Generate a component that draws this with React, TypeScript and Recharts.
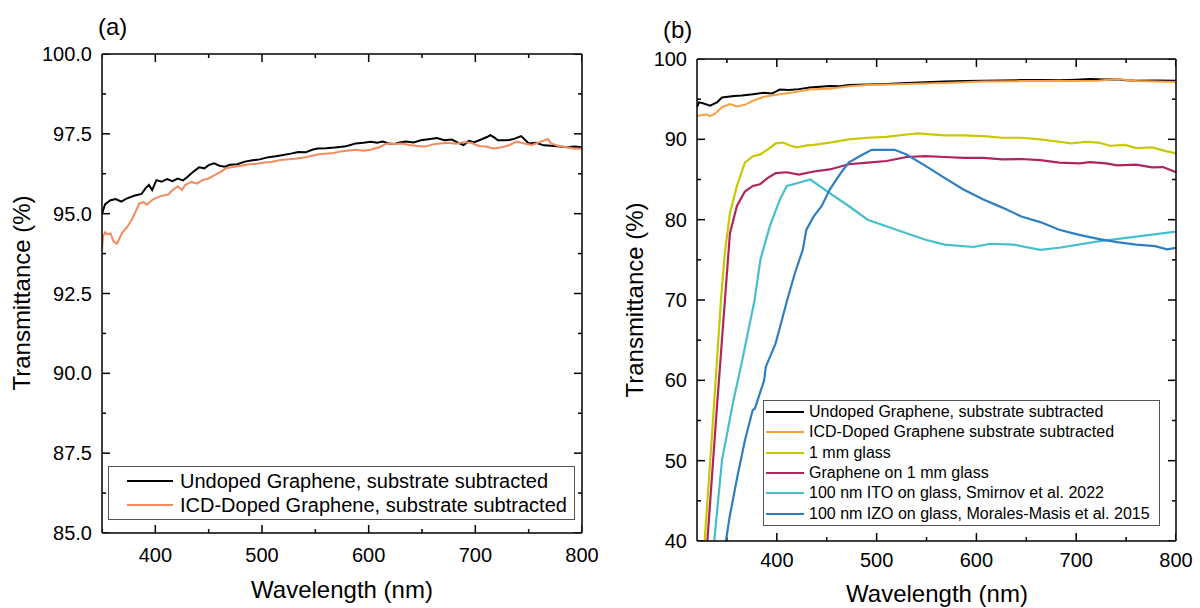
import { Legend, Line, LineChart, XAxis, YAxis } from "recharts";

const FONT = '"Liberation Sans", Arial, Helvetica, sans-serif';

// ---------- panel (a): wavelength (nm), transmittance (%) ----------
const undopedA: [number, number][] = [
  [350, 95.0], [353, 95.3], [358, 95.42], [363, 95.46], [368, 95.38], [373, 95.47],
  [380, 95.56], [387, 95.62], [391, 95.8], [394, 95.9], [397, 95.74], [401, 96.05],
  [406, 96.0], [411, 96.08], [416, 96.02], [421, 96.1], [426, 96.04], [430, 96.15],
  [435, 96.3], [441, 96.45], [446, 96.42], [450, 96.52], [455, 96.58], [460, 96.5],
  [465, 96.47], [470, 96.53], [477, 96.55], [484, 96.63], [491, 96.67], [498, 96.7],
  [506, 96.77], [513, 96.8], [520, 96.84], [527, 96.88], [534, 96.93], [541, 96.92],
  [547, 97.0], [552, 97.04], [560, 97.05], [568, 97.07], [577, 97.1], [583, 97.15],
  [588, 97.2], [595, 97.22], [602, 97.25], [608, 97.22], [613, 97.26], [619, 97.2],
  [624, 97.18], [630, 97.24], [635, 97.26], [642, 97.23], [649, 97.3], [656, 97.33],
  [664, 97.37], [671, 97.3], [678, 97.32], [684, 97.22], [689, 97.15], [694, 97.28],
  [699, 97.24], [706, 97.33], [711, 97.4], [714, 97.46], [718, 97.38], [721, 97.3],
  [727, 97.3], [732, 97.31], [737, 97.35], [743, 97.43], [747, 97.3], [750, 97.2],
  [757, 97.22], [764, 97.14], [771, 97.13], [779, 97.1], [786, 97.08], [793, 97.1],
  [800, 97.08],
];

const dopedA: [number, number][] = [
  [350, 93.85], [351, 94.3], [353, 94.42], [355, 94.35], [358, 94.38], [361, 94.12],
  [364, 94.06], [366, 94.2], [369, 94.4], [374, 94.6], [378, 94.82], [382, 95.1],
  [385, 95.32], [389, 95.36], [392, 95.28], [398, 95.45], [405, 95.55], [412, 95.6],
  [416, 95.73], [421, 95.86], [425, 95.74], [428, 95.9], [434, 96.0], [439, 95.94],
  [444, 96.05], [450, 96.1], [455, 96.2], [461, 96.3], [466, 96.42], [473, 96.46],
  [480, 96.5], [488, 96.55], [495, 96.56], [502, 96.6], [509, 96.62], [516, 96.67],
  [523, 96.7], [531, 96.72], [538, 96.75], [545, 96.8], [552, 96.85], [559, 96.88],
  [567, 96.9], [574, 96.95], [581, 96.98], [588, 97.0], [595, 96.97], [602, 97.0],
  [610, 97.08], [617, 97.2], [624, 97.18], [631, 97.2], [638, 97.15], [646, 97.12],
  [653, 97.1], [660, 97.17], [667, 97.2], [674, 97.22], [682, 97.19], [689, 97.24],
  [696, 97.22], [703, 97.12], [710, 97.1], [717, 97.04], [725, 97.08], [732, 97.15],
  [739, 97.26], [746, 97.2], [753, 97.15], [761, 97.25], [768, 97.34], [771, 97.2],
  [778, 97.12], [786, 97.08], [793, 97.03], [800, 97.04],
];

// ---------- panel (b) ----------
const undopedB: [number, number][] = [
  [320, 94.0], [322, 94.6], [326, 94.5], [333, 94.2], [340, 94.6], [345, 95.2],
  [351, 95.3], [357, 95.4], [365, 95.45], [376, 95.6], [387, 95.8], [395, 95.7],
  [403, 96.2], [412, 96.15], [422, 96.25], [433, 96.45], [443, 96.55], [453, 96.65],
  [463, 96.62], [472, 96.75], [491, 96.82], [510, 96.9], [530, 97.0], [549, 97.1],
  [568, 97.2], [588, 97.25], [607, 97.3], [626, 97.32], [645, 97.38], [665, 97.4],
  [683, 97.35], [700, 97.42], [714, 97.5], [728, 97.45], [741, 97.48], [750, 97.35],
  [760, 97.3], [780, 97.32], [800, 97.28],
];

const dopedB: [number, number][] = [
  [320, 92.9], [324, 93.0], [330, 93.1], [333, 92.9], [338, 93.2], [345, 94.0],
  [353, 94.4], [360, 94.1], [368, 94.3], [376, 94.8], [387, 95.3], [403, 95.6],
  [414, 95.8], [433, 96.2], [453, 96.3], [472, 96.6], [491, 96.75], [530, 96.9],
  [568, 97.0], [607, 97.2], [645, 97.25], [683, 97.25], [722, 97.3], [741, 97.5],
  [760, 97.25], [780, 97.2], [800, 97.15],
];

const glass: [number, number][] = [
  [327.7, 40], [336, 55], [344, 70], [348, 76], [353, 80.8], [360, 84.2], [368, 87.1],
  [376, 87.9], [383, 88.1], [391, 88.75], [399, 89.5], [406, 89.6], [414, 89.2],
  [420, 89.0], [430, 89.25], [437, 89.3], [453, 89.6], [472, 90.0], [491, 90.2],
  [510, 90.3], [530, 90.6], [541, 90.75], [568, 90.5], [587, 90.5], [607, 90.4],
  [626, 90.2], [645, 90.2], [664, 90.0], [683, 89.7], [695, 89.5], [710, 89.7],
  [722, 89.6], [734, 89.2], [749, 89.3], [760, 88.9], [776, 89.0], [791, 88.5],
  [800, 88.25],
];

const grapheneGlass: [number, number][] = [
  [330.4, 40], [339, 55], [348, 70], [353, 78.3], [360, 81.7], [368, 83.5], [376, 84.2],
  [383, 84.4], [391, 85.2], [399, 85.8], [410, 85.9], [422, 85.6], [437, 86.0],
  [453, 86.25], [472, 86.9], [491, 87.1], [510, 87.3], [530, 87.8], [549, 87.9],
  [568, 87.8], [587, 87.7], [607, 87.7], [626, 87.5], [645, 87.55], [664, 87.4],
  [683, 87.1], [703, 87.0], [714, 87.15], [730, 87.0], [741, 86.75], [760, 86.85],
  [776, 86.5], [787, 86.55], [800, 85.9],
];

const ito: [number, number][] = [
  [337.3, 40], [345, 50], [356.5, 57.5], [364, 61.7], [377.7, 70], [383.5, 75],
  [393, 79.2], [403, 82.5], [410, 84.2], [422, 84.6], [433.5, 85.0], [453, 83.3],
  [472, 81.7], [491, 80.0], [504.6, 79.4], [530, 78.3], [549, 77.5], [568, 76.9],
  [597, 76.6], [614, 77.0], [637, 76.9], [664, 76.25], [683, 76.5], [722, 77.3],
  [760, 77.9], [800, 78.5],
];

const izo: [number, number][] = [
  [349, 40], [352.7, 43], [360.4, 48], [368, 52.5], [375.8, 56.3], [378, 56.5],
  [387.3, 60], [389, 61.7], [398.8, 64.6], [410.4, 70], [418, 73.3], [426, 76.25],
  [429.6, 78.75], [437, 80.4], [445, 81.7], [453, 83.75], [464, 85.8], [472, 87.1],
  [483, 87.9], [495, 88.7], [518, 88.7], [530, 88.1], [549, 86.7], [568, 85.2],
  [587, 83.75], [607, 82.5], [626, 81.5], [645, 80.4], [664, 79.7], [683, 78.75],
  [703, 78.1], [722, 77.6], [741, 77.2], [760, 76.9], [779, 76.7], [791, 76.3],
  [800, 76.5],
];

const xMajor = [400, 500, 600, 700, 800];
const xMinor = [350, 450, 550, 650, 750];
const yMajorA = [85, 87.5, 90, 92.5, 95, 97.5, 100];
const yMinorA = [86.25, 88.75, 91.25, 93.75, 96.25, 98.75];
const yMajorB = [40, 50, 60, 70, 80, 90, 100];
const yMinorB = [45, 55, 65, 75, 85, 95];

const seriesA = [
  { name: "Undoped Graphene, substrate subtracted", color: "#000000", data: undopedA, w: 2 },
  { name: "ICD-Doped Graphene, substrate subtracted", color: "#f58a5c", data: dopedA, w: 2 },
];

const seriesB = [
  { name: "Undoped Graphene, substrate subtracted", color: "#000000", data: undopedB, w: 2 },
  { name: "ICD-Doped Graphene substrate subtracted", color: "#f5a144", data: dopedB, w: 2 },
  { name: "1 mm glass", color: "#c8c800", data: glass, w: 2.2 },
  { name: "Graphene on 1 mm glass", color: "#b0245e", data: grapheneGlass, w: 2.2 },
  { name: "100 nm ITO on glass, Smirnov et al. 2022", color: "#45bfcc", data: ito, w: 2.2 },
  { name: "100 nm IZO on glass, Morales-Masis et al. 2015", color: "#2e7fc2", data: izo, w: 2.2 },
];

const pts = (arr: [number, number][]) => arr.map(([w, t]) => ({ w, t }));

const axisLine = { stroke: "#000", strokeWidth: 1.5 };
const tickText = { fill: "#000", fontSize: 20, fontFamily: FONT };
const MAJ = 8;
const MIN = 4;

// box frame: labelled bottom/left axes + bare top/right lines
function frameAxes(xd: number[], yd: number[], yMaj: number[], fmt: (v: number) => string, xMargin: number) {
  const common = { type: "number" as const, allowDataOverflow: true, interval: 0 as const };
  return [
    <XAxis key="x" xAxisId="x" dataKey="w" {...common} domain={xd} ticks={xMajor} height={30}
      tickLine={false} axisLine={axisLine} tick={tickText} tickMargin={xMargin} />,
    <XAxis key="xt" xAxisId="xt" {...common} orientation="top" domain={xd} mirror height={1}
      tick={false} tickLine={false} axisLine={axisLine} />,
    <YAxis key="y" yAxisId="y" {...common} domain={yd} ticks={yMaj} width={60}
      tickLine={false} axisLine={axisLine} tick={tickText} tickMargin={4} tickFormatter={fmt} />,
    <YAxis key="yr" yAxisId="yr" {...common} orientation="right" domain={yd} mirror width={1}
      tick={false} tickLine={false} axisLine={axisLine} />,
  ];
}

// inward tick marks on all four sides, drawn as two-point segments through the axis scales
function frameTicks(xd: number[], yd: number[], plotW: number, plotH: number, yMaj: number[], yMin: number[]) {
  const ux = (xd[1] - xd[0]) / plotW;
  const uy = (yd[1] - yd[0]) / plotH;
  const out = [];
  const mark = (key: string, a: [number, number], b: [number, number]) =>
    out.push(
      <Line key={key} xAxisId="x" yAxisId="y" data={pts([a, b])} dataKey="t" stroke="#000" strokeWidth={1.5}
        dot={false} type="linear" legendType="none" isAnimationActive={false} />
    );
  const xs = [...xMajor.map((v) => [v, MAJ]), ...xMinor.map((v) => [v, MIN])];
  for (const [v, l] of xs) {
    mark(`xb${v}`, [v, yd[0]], [v, yd[0] + l * uy]);
    mark(`xt${v}`, [v, yd[1]], [v, yd[1] - l * uy]);
  }
  const ys = [...yMaj.map((v) => [v, MAJ]), ...yMin.map((v) => [v, MIN])];
  for (const [v, l] of ys) {
    mark(`yl${v}`, [xd[0], v], [xd[0] + l * ux, v]);
    mark(`yr${v}`, [xd[1], v], [xd[1] - l * ux, v]);
  }
  return out;
}

function legendBox(
  items: { name: string; color: string }[],
  o: { fontSize: number; rowH: number; padTop: number; sampleL: number; sampleW: number; gap: number }
) {
  return () => (
    <div
      style={{
        boxSizing: "border-box",
        width: "100%",
        height: "100%",
        border: "1px solid #555",
        background: "#fff",
        paddingTop: o.padTop,
        fontFamily: FONT,
        fontSize: o.fontSize,
        color: "#000",
        textAlign: "left",
      }}
    >
      {items.map((it) => (
        <div key={it.name} style={{ display: "flex", alignItems: "center", height: o.rowH }}>
          <div style={{ marginLeft: o.sampleL, width: o.sampleW, borderTop: `2.5px solid ${it.color}`, marginRight: o.gap }} />
          <span style={{ whiteSpace: "nowrap", lineHeight: 1 }}>{it.name}</span>
        </div>
      ))}
    </div>
  );
}

const txt = (s: React.CSSProperties): React.CSSProperties => ({
  position: "absolute",
  fontFamily: FONT,
  fontSize: 24,
  lineHeight: 1,
  whiteSpace: "nowrap",
  color: "#000",
  ...s,
});

export default function App() {
  return (
    <div style={{ position: "absolute", left: 0, top: 0, width: 1200, height: 608, background: "#fff", overflow: "hidden" }}>
      <div style={{ position: "absolute", left: 0, top: 0 }}>
        <LineChart width={600} height={608} margin={{ top: 54, right: 18, bottom: 45, left: 42 }}>
          {frameAxes([350, 800], [85, 100], yMajorA, (v) => v.toFixed(1), 9)}
          {frameTicks([350, 800], [85, 100], 480, 479, yMajorA, yMinorA)}
          {seriesA.map((s) => (
            <Line key={s.name} xAxisId="x" yAxisId="y" data={pts(s.data)} dataKey="t" name={s.name}
              stroke={s.color} strokeWidth={s.w} dot={false} type="linear" isAnimationActive={false} />
          ))}
          <Legend
            layout="vertical"
            align="center"
            verticalAlign="middle"
            wrapperStyle={{ left: 108, top: 466, width: 467, height: 54, margin: 0 }}
            content={legendBox(seriesA, { fontSize: 20, rowH: 24, padTop: 2, sampleL: 18, sampleW: 46, gap: 7 })}
          />
        </LineChart>
      </div>
      <div style={{ position: "absolute", left: 600, top: 0 }}>
        <LineChart width={600} height={608} margin={{ top: 59, right: 24, bottom: 37, left: 37 }}>
          {frameAxes([320, 800], [40, 100], yMajorB, (v) => String(v), 6)}
          {frameTicks([320, 800], [40, 100], 479, 482, yMajorB, yMinorB)}
          {seriesB.map((s) => (
            <Line key={s.name} xAxisId="x" yAxisId="y" data={pts(s.data)} dataKey="t" name={s.name}
              stroke={s.color} strokeWidth={s.w} dot={false} type="linear" isAnimationActive={false} />
          ))}
          <Legend
            layout="vertical"
            align="center"
            verticalAlign="middle"
            wrapperStyle={{ left: 163, top: 400, width: 397, height: 126, margin: 0 }}
            content={legendBox(seriesB, { fontSize: 16, rowH: 20.3, padTop: 1, sampleL: 2, sampleW: 38, gap: 5 })}
          />
        </LineChart>
      </div>

      <div style={txt({ left: 98, top: 27, transform: "translateY(-50%)" })}>(a)</div>
      <div style={txt({ left: 663, top: 30, transform: "translateY(-50%)" })}>(b)</div>
      <div style={txt({ left: 342, top: 590, transform: "translate(-50%,-50%)" })}>Wavelength (nm)</div>
      <div style={txt({ left: 937, top: 594, transform: "translate(-50%,-50%)" })}>Wavelength (nm)</div>
      <div style={txt({ left: 22, top: 293, transform: "translate(-50%,-50%) rotate(-90deg)" })}>Transmittance (%)</div>
      <div style={txt({ left: 635, top: 300, transform: "translate(-50%,-50%) rotate(-90deg)" })}>Transmittance (%)</div>
    </div>
  );
}
